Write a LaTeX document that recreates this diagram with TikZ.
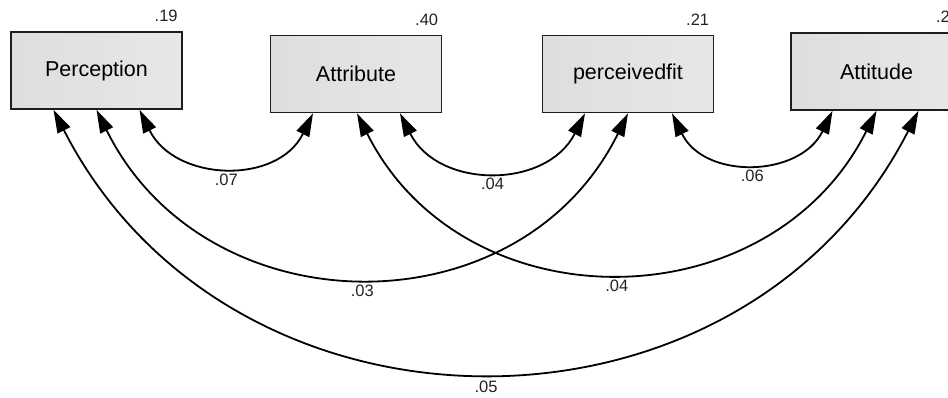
\documentclass[tikz,border=0pt]{standalone}
\usepackage{fontspec}
\setmainfont{Liberation Sans}
\usetikzlibrary{arrows.meta}
\begin{document}
\begin{tikzpicture}[x=1pt,y=-1pt,
  var/.style={draw={rgb,255:red,30;green,30;blue,30}, line width=1.7pt,
    left color={rgb,255:red,222;green,222;blue,222}, right color={rgb,255:red,231;green,231;blue,231},
    minimum width=171pt, minimum height=77pt, inner sep=0pt,
    font=\fontsize{21.5}{24}\selectfont},
  rsq/.style={anchor=south east, inner sep=0pt, font=\fontsize{16.5}{18}\selectfont,
    text={rgb,255:red,35;green,35;blue,35}},
  cov/.style={line width=1.8pt, {Triangle[length=23pt,width=14pt]}-{Triangle[length=23pt,width=14pt]}},
  lab/.style={inner sep=0pt, font=\fontsize{16.5}{18}\selectfont, below=7pt,
    text={rgb,255:red,35;green,35;blue,35}}
]
\useasboundingbox (0,0) rectangle (948,397);
\clip (0,0) rectangle (948,397);
\node[var] (P) at (96.5,70.5) {Perception};
\node[var] (A) at (356,74) {Attribute};
\node[var] (F) at (628,74) {perceivedfit};
\node[var] (T) at (876.5,71.5) {Attitude};
\node[rsq] (rP) at ([xshift=-5pt,yshift=9pt]P.north east) {.19};
\node[rsq] (rA) at ([xshift=-4pt,yshift=9pt]A.north east) {.40};
\node[rsq] (rF) at ([xshift=-5pt,yshift=9pt]F.north east) {.21};
\node[rsq, anchor=south west] (rT) at ([xshift=-27pt,yshift=9pt]T.north east) {.2};
\draw[cov] ([xshift=43pt]P.south) .. controls +(35.4,72) and +(-35.4,72) .. ([xshift=-43pt]A.south) node[lab,pos=0.5] {.07};
\draw[cov] ([xshift=44pt]A.south) .. controls +(38.4,76) and +(-38.4,76) .. ([xshift=-43pt]F.south) node[lab,pos=0.5] {.04};
\draw[cov] ([xshift=44pt]F.south) .. controls +(32.5,66.7) and +(-32.5,66.7) .. ([xshift=-44pt]T.south) node[lab,pos=0.5] {.06};
\draw[cov] (P.south) .. controls +(108.9,220) and +(-108.9,220) .. (F.south) node[lab,pos=0.5] {.03};
\draw[cov] ([xshift=1pt]A.south) .. controls +(107,213) and +(-107,213) .. (T.south) node[lab,pos=0.5] {.04};
\draw[cov] ([xshift=-43pt]P.south) .. controls +(178,348) and +(-178,348) .. ([xshift=42pt]T.south) node[lab,pos=0.5,below=2pt] {.05};
\end{tikzpicture}
\end{document}
